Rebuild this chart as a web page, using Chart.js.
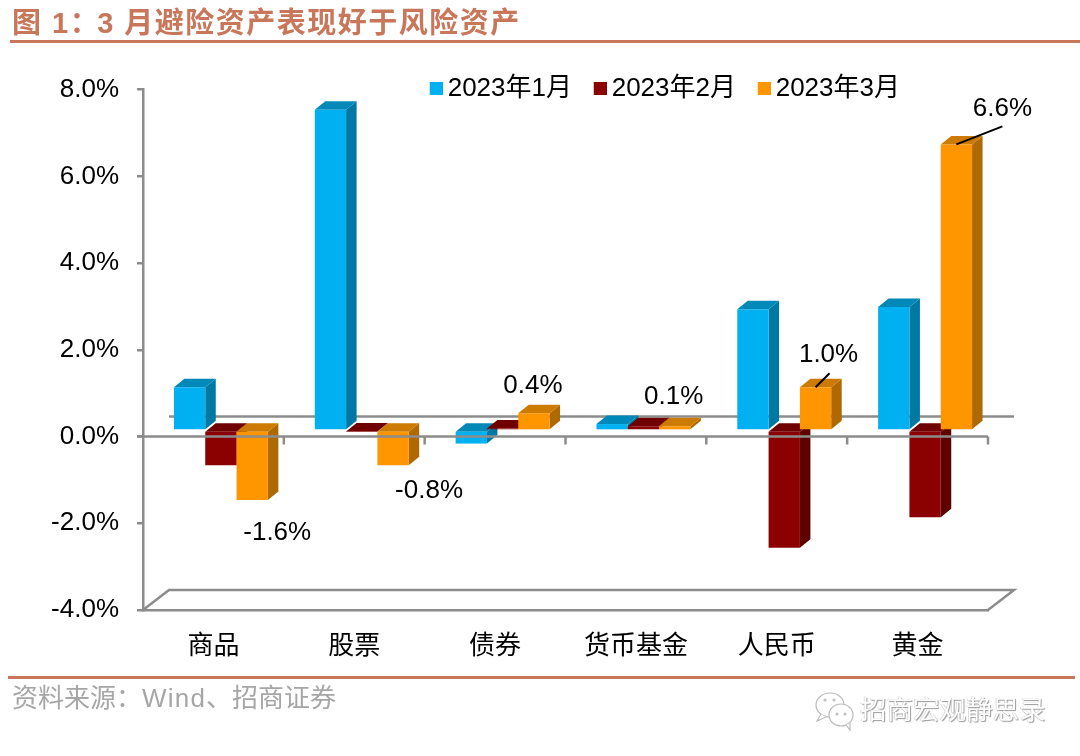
<!DOCTYPE html>
<html lang="zh">
<head>
<meta charset="utf-8">
<title>图 1</title>
<script src="https://cdn.jsdelivr.net/npm/chart.js@4/dist/chart.umd.min.js"></script>
<style>
  html, body { margin: 0; padding: 0; background: #fff; }
  #page { position: relative; width: 1080px; height: 756px; overflow: hidden; font-family: "Liberation Sans", "Noto Sans CJK SC", sans-serif; }
  #chart { position: absolute; left: 0; top: 0; }
  #title { position: absolute; left: 12px; top: -1px; font-size: 29px; font-weight: bold; letter-spacing: 1.5px; color: #c8775a; white-space: pre; }
  #title span { margin-left: -3px; }
  .rule { position: absolute; height: 3px; background: #c8775a; }
  #source { position: absolute; left: 12px; top: 677px; font-size: 26px; color: #a6a6a6; white-space: pre; }
  #source span { letter-spacing: 1.2px; }
  #mark { position: absolute; left: 860px; top: 688px; font-size: 26.5px; color: #fff; text-shadow: 1px 1px 1px #999, -0.5px -0.5px 0.5px #bbb; white-space: pre; }
  #icon { position: absolute; left: 813px; top: 690px; }
</style>
</head>
<body>
<div id="page">
  <canvas id="chart" width="1080" height="756"></canvas>
  <div id="title">图 1：<span>3 月避险资产表现好于风险资产</span></div>
  <div class="rule" style="left:10px; top:40px; width:1070px;"></div>
  <div class="rule" style="left:8px; top:676px; width:1067px;"></div>
  <div id="source">资料来源：<span>Wind</span>、招商证券</div>
  <svg id="icon" width="44" height="42" viewBox="0 0 44 42" fill="#fff" stroke="#bbb" stroke-width="1.2">
    <ellipse cx="17" cy="15" rx="14" ry="12"/>
    <path d="M8 24 L4 31 L13 27"/>
    <ellipse cx="28" cy="25" rx="12" ry="11"/>
    <path d="M33 35 L37 40 L37 33"/>
    <circle cx="24" cy="24" r="1"/>
    <circle cx="32" cy="24" r="1"/>
    <circle cx="12" cy="10" r="1"/>
    <circle cx="21" cy="10" r="1"/>
  </svg>
  <div id="mark">招商宏观静思录</div>
</div>
<script>
// ----------------------------------------------------------
// Datos (valores en %)
// ----------------------------------------------------------
const categories = ["商品", "股票", "债券", "货币基金", "人民币", "黄金"];
const seriesNames = ["2023年1月", "2023年2月", "2023年3月"];
const jan2023 = [1.0, 7.4, -0.3, 0.15, 2.8, 2.85];
const feb2023 = [-0.8, -0.02, 0.05, 0.1, -2.7, -2.0];
const mar2023 = [-1.6, -0.8, 0.4, 0.1, 1.0, 6.6];
const yTicks = [8, 6, 4, 2, 0, -2, -4];

// Colores: frente, lado y tapa de cada serie
const frontColors = ["#00b0f0", "#8b0000", "#ff9600"];
const sideColors = ["#0078a4", "#5f0000", "#b06800"];
const topColors = ["#0088b8", "#700000", "#cc7a00"];
const axisColor = "#8c8c8c";

// Profundidad del efecto 3D
const barShift = { x: 7.5, y: -6 };
const barDepth = { x: 10.5, y: -8.5 };
const wallDepth = { x: 26, y: -20 };

// Posición de las etiquetas de mar2023, relativa a la barra
const labelOffsets = [[25, 33], [36, 26], [-1, -27], [-1, -29], [13, -32], [46, -36]];
// Líneas guía: índice de categoría -> extremo relativo a la barra
const leaderLines = { 4: [14, -14], 5: [46, -18] };

// Cuadrado de la leyenda (el lienzo es más ancho para acercarlo al texto)
function legendSwatch(color) {
    const c = document.createElement("canvas");
    c.width = 17;
    c.height = 13;
    const g = c.getContext("2d");
    g.fillStyle = color;
    g.fillRect(4, 0, 13, 13);
    return c;
}

// Caras lateral y superior de cada barra de una serie
function drawBarFaces(ctx, meta, i) {
    meta.data.forEach(bar => {
        const left = bar.x - bar.width / 2;
        const right = bar.x + bar.width / 2;
        const upper = Math.min(bar.y, bar.base);
        const lower = Math.max(bar.y, bar.base);

        ctx.fillStyle = sideColors[i];
        ctx.beginPath();
        ctx.moveTo(right, upper);
        ctx.lineTo(right + barDepth.x, upper + barDepth.y);
        ctx.lineTo(right + barDepth.x, lower + barDepth.y);
        ctx.lineTo(right, lower);
        ctx.closePath();
        ctx.fill();

        ctx.fillStyle = topColors[i];
        ctx.beginPath();
        ctx.moveTo(left, upper);
        ctx.lineTo(left + barDepth.x, upper + barDepth.y);
        ctx.lineTo(right + barDepth.x, upper + barDepth.y);
        ctx.lineTo(right, upper);
        ctx.closePath();
        ctx.fill();
    });
}

// ----------------------------------------------------------
// Plugin: pared, barras en 3D de izquierda a derecha y etiquetas
// ----------------------------------------------------------
const pseudo3d = {
    id: "pseudo3d",
    afterLayout(chart) {
        // Colocamos la leyenda dentro del área, como en el original
        const legend = chart.legend;
        const w = legend.width;
        legend.left = 408;
        legend.right = 408 + w;
        legend.top = 50;
        legend.bottom = 50 + legend.height;
    },
    beforeDatasetsDraw(chart) {
        const { ctx, scales: { x, y } } = chart;
        const zero = y.getPixelForValue(0);
        const floor = y.getPixelForValue(-4);

        ctx.save();
        ctx.strokeStyle = axisColor;
        ctx.lineWidth = 2.5;
        // Línea del cero en el fondo
        ctx.beginPath();
        ctx.moveTo(x.left + wallDepth.x, zero + wallDepth.y);
        ctx.lineTo(x.right + wallDepth.x, zero + wallDepth.y);
        ctx.stroke();
        // Piso
        ctx.beginPath();
        ctx.moveTo(x.left, floor);
        ctx.lineTo(x.left + wallDepth.x, floor + wallDepth.y);
        ctx.lineTo(x.right + wallDepth.x, floor + wallDepth.y);
        ctx.lineTo(x.right, floor);
        ctx.stroke();
        ctx.restore();

        // Enero primero, marzo encima: el orden normal es el inverso
        seriesNames.forEach((name, i) => {
            const meta = chart.getDatasetMeta(i);
            ctx.save();
            ctx.translate(barShift.x, barShift.y);
            drawBarFaces(ctx, meta, i);
            meta.controller.draw();
            ctx.restore();
        });

        ctx.save();
        // Eje del cero por delante de las barras, con sus marcas
        ctx.strokeStyle = axisColor;
        ctx.lineWidth = 2.5;
        ctx.beginPath();
        ctx.moveTo(x.left - 6, zero);
        ctx.lineTo(x.right, zero);
        categories.forEach((c, i) => {
            const tick = x.getPixelForValue(i + 0.5);
            ctx.moveTo(tick, zero);
            ctx.lineTo(tick, zero + 8);
        });
        ctx.stroke();

        // Etiquetas de la serie de marzo
        const bars = chart.getDatasetMeta(2).data;
        ctx.fillStyle = "#000";
        ctx.font = '26px "Liberation Sans"';
        ctx.textAlign = "center";
        ctx.textBaseline = "middle";
        mar2023.forEach((value, i) => {
            const bx = bars[i].x + barShift.x;
            const by = bars[i].y + barShift.y;
            ctx.fillText(value.toFixed(1) + "%", bx + labelOffsets[i][0], by + labelOffsets[i][1]);
            if (leaderLines[i]) {
                ctx.strokeStyle = "#000";
                ctx.lineWidth = 2;
                ctx.beginPath();
                ctx.moveTo(bx, by);
                ctx.lineTo(bx + leaderLines[i][0], by + leaderLines[i][1]);
                ctx.stroke();
            }
        });
        ctx.restore();
        return false;
    }
};

// ----------------------------------------------------------
// Gráfico
// ----------------------------------------------------------
const seriesValues = [jan2023, feb2023, mar2023];

new Chart(document.getElementById("chart").getContext("2d"), {
    type: "bar",
    data: {
        labels: categories,
        datasets: seriesValues.map((values, i) => ({
            label: seriesNames[i],
            data: values,
            backgroundColor: frontColors[i],
            borderWidth: 0,
            barPercentage: 1,
            categoryPercentage: 0.667
        }))
    },
    options: {
        responsive: false,
        animation: false,
        devicePixelRatio: 1,
        layout: { padding: { top: 28, right: 92, bottom: 0, left: 0 } },
        plugins: {
            title: { display: false },
            tooltip: { enabled: false },
            legend: {
                position: "top",
                align: "start",
                labels: {
                    usePointStyle: true,
                    boxWidth: 1,
                    padding: 25.7,
                    color: "#000",
                    font: { family: '"Liberation Sans", "Noto Sans CJK SC"', size: 26 },
                    generateLabels(chart) {
                        return Chart.defaults.plugins.legend.labels.generateLabels(chart).map((item, i) => {
                            item.pointStyle = legendSwatch(frontColors[i]);
                            return item;
                        });
                    }
                }
            }
        },
        scales: {
            x: {
                afterFit(scale) { scale.height = 146; },
                grid: { display: false },
                border: { display: true, color: axisColor, width: 2.5 },
                ticks: {
                    color: "#000",
                    padding: 11,
                    maxRotation: 0,
                    font: { family: '"Noto Sans CJK SC"', size: 26 }
                }
            },
            y: {
                min: -4,
                max: 8,
                afterFit(scale) { scale.width = 143; },
                afterBuildTicks(scale) { scale.ticks = yTicks.map(value => ({ value })); },
                grid: { drawOnChartArea: false, drawTicks: true, tickLength: 6, color: axisColor, lineWidth: 2.5 },
                border: { display: true, color: axisColor, width: 2.5 },
                ticks: {
                    color: "#000",
                    padding: 18,
                    font: { family: '"Liberation Sans"', size: 26 },
                    callback: value => value.toFixed(1) + "%"
                }
            }
        }
    },
    plugins: [pseudo3d]
});
</script>
</body>
</html>
